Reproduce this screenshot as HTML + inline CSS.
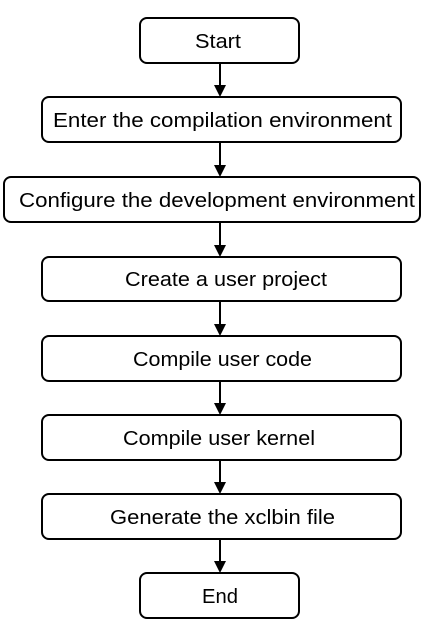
<!DOCTYPE html>
<html><head><meta charset="utf-8"><style>
html,body{margin:0;padding:0;background:#fff;}
svg{display:block}
text{font-family:"Liberation Sans",sans-serif;font-size:20px;fill:#000;}
</style></head><body>
<svg width="428" height="633" viewBox="0 0 428 633" xmlns="http://www.w3.org/2000/svg">
<g fill="none" stroke="#000" stroke-width="2">
<rect x="140" y="18" width="159" height="45" rx="7"/>
<rect x="42" y="97" width="359" height="45" rx="7"/>
<rect x="4" y="177" width="416" height="45" rx="7"/>
<rect x="42" y="257" width="359" height="44" rx="7"/>
<rect x="42" y="336" width="359" height="45" rx="7"/>
<rect x="42" y="415" width="359" height="45" rx="7"/>
<rect x="42" y="494" width="359" height="45" rx="7"/>
<rect x="140" y="573" width="159" height="45" rx="7"/>
<path d="M220 63V86M220 142V166M220 222V246M220 301V325M220 381V404M220 460V483M220 539V562"/>
</g>
<g fill="#000">
<path d="M214 85H226L220 97Z"/><path d="M214 165H226L220 177Z"/><path d="M214 245H226L220 257Z"/>
<path d="M214 324H226L220 336Z"/><path d="M214 403H226L220 415Z"/><path d="M214 482H226L220 494Z"/>
<path d="M214 561H226L220 573Z"/>
</g>
<text x="195" y="48" textLength="46" lengthAdjust="spacingAndGlyphs">Start</text>
<text x="53" y="127" textLength="339" lengthAdjust="spacingAndGlyphs">Enter the compilation environment</text>
<text x="19" y="207" textLength="396" lengthAdjust="spacingAndGlyphs">Configure the development environment</text>
<text x="125" y="286" textLength="202" lengthAdjust="spacingAndGlyphs">Create a user project</text>
<text x="133" y="366" textLength="179" lengthAdjust="spacingAndGlyphs">Compile user code</text>
<text x="123" y="445" textLength="192" lengthAdjust="spacingAndGlyphs">Compile user kernel</text>
<text x="110" y="524" textLength="225" lengthAdjust="spacingAndGlyphs">Generate the xclbin file</text>
<text x="202" y="603" textLength="36" lengthAdjust="spacingAndGlyphs">End</text>
</svg>
</body></html>
